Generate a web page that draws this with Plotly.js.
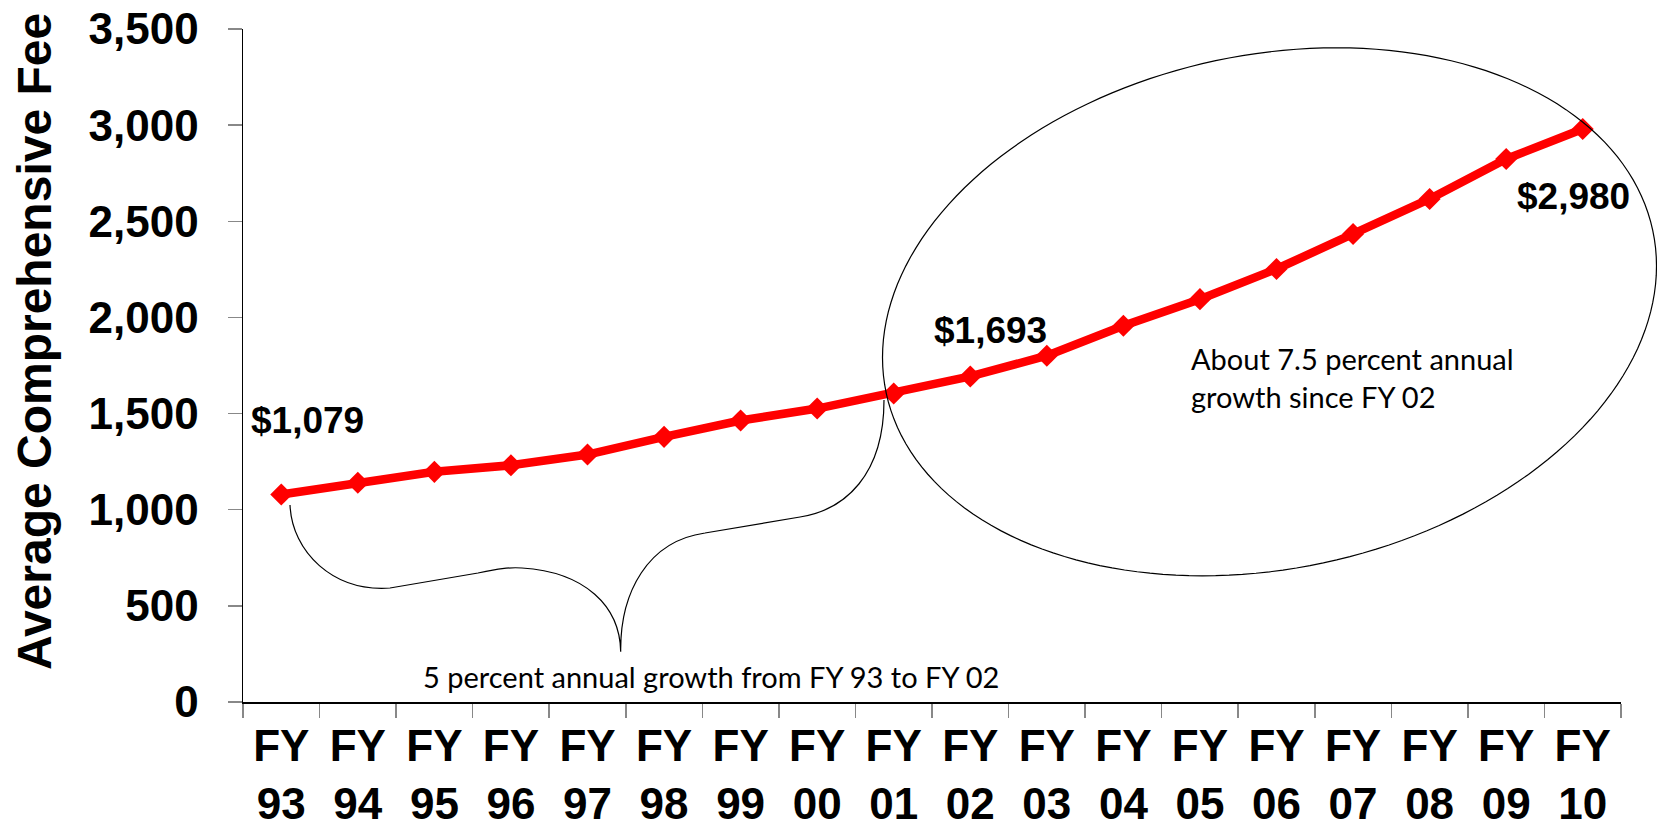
<!DOCTYPE html>
<html>
<head>
<meta charset="utf-8">
<script src="https://cdn.plot.ly/plotly-3.0.1.min.js"></script>
<style>
  html, body { margin: 0; padding: 0; background: #fff; }
  #chart { width: 1657px; height: 836px; }
</style>
</head>
<body>
<div id="chart"></div>
<script>
// ---- data ----
const categories = ['FY 93','FY 94','FY 95','FY 96','FY 97','FY 98','FY 99','FY 00','FY 01',
                    'FY 02','FY 03','FY 04','FY 05','FY 06','FY 07','FY 08','FY 09','FY 10'];
const tickLabels = ['FY<br>93','FY<br>94','FY<br>95','FY<br>96','FY<br>97','FY<br>98','FY<br>99','FY<br>00','FY<br>01',
                    'FY<br>02','FY<br>03','FY<br>04','FY<br>05','FY<br>06','FY<br>07','FY<br>08','FY<br>09','FY<br>10'];
const avgFee = [1079, 1140, 1197, 1231, 1287, 1379, 1464, 1526, 1604,
                1693, 1801, 1957, 2095, 2252, 2434, 2616, 2824, 2980];
const labelledPoints = ['FY 93', 'FY 02', 'FY 10'];
const yAxisTitle = 'Average Comprehensive Fee';
const noteEarly = '5 percent annual growth from FY 93 to FY 02';
const noteLate = 'About 7.5 percent annual<br>growth since FY 02';

// ---- layout geometry (pixels) ----
const W = 1657, H = 836;
const M = { l: 243, r: 36, t: 29, b: 134 };
const PW = W - M.l - M.r, PH = H - M.t - M.b;
const px2x = px => (px - M.l) / PW;
const py2y = py => (H - M.b - py) / PH;

const boldArial = { family: 'Arial, "Liberation Sans", sans-serif', color: '#000', weight: 'bold' };
const lato = { family: 'Lato, Carlito, Calibri, sans-serif', color: '#000', size: 29 };

// value labels offsets (pixels, relative to point)
const labelShift = { 'FY 93': [26, 74], 'FY 02': [20, 46], 'FY 10': [-9, -68] };
const fmt = v => '$' + v.toLocaleString('en-US');

const annotations = labelledPoints.map(c => {
  const i = categories.indexOf(c);
  return {
    x: c, y: avgFee[i], xref: 'x', yref: 'y', showarrow: false,
    text: fmt(avgFee[i]), xanchor: 'center', yanchor: 'middle',
    xshift: labelShift[c][0], yshift: labelShift[c][1],
    font: Object.assign({}, boldArial, { size: 37 })
  };
});
annotations.push({
  xref: 'paper', yref: 'paper', x: px2x(34), y: py2y(342), showarrow: false,
  text: yAxisTitle, textangle: -90, xanchor: 'center', yanchor: 'middle',
  font: Object.assign({}, boldArial, { size: 48 })
});
annotations.push({
  xref: 'paper', yref: 'paper', x: px2x(421), y: py2y(676), showarrow: false,
  text: noteEarly, xanchor: 'left', yanchor: 'middle', align: 'left', font: lato
});
annotations.push({
  xref: 'paper', yref: 'paper', x: px2x(1189), y: py2y(378), showarrow: false,
  text: noteLate, xanchor: 'left', yanchor: 'middle', align: 'left', font: lato
});

// ---- decorative shapes (tilted ellipse and curly brace), pixel -> paper ----
function pt(px, py) { return px2x(px).toFixed(5) + ',' + py2y(py).toFixed(5); }
function ellipsePath(cx, cy, hw, hh, cxy) {
  const k = cxy / hw, m = Math.sqrt(hh * hh - k * k);
  let d = '';
  for (let s = 0; s <= 180; s++) {
    const t = s / 180 * 2 * Math.PI;
    const x = cx + hw * Math.cos(t);
    const y = cy + k * Math.cos(t) + m * Math.sin(t);
    d += (s === 0 ? 'M' : 'L') + pt(x, y);
  }
  return d + 'Z';
}
const bracePath =
  'M' + pt(290, 505) +
  'C' + pt(292, 552) + ' ' + pt(333, 592) + ' ' + pt(390, 588) +
  'L' + pt(478, 573) +
  'C' + pt(498, 569) + ' ' + pt(508, 567) + ' ' + pt(522, 568) +
  'C' + pt(585, 572) + ' ' + pt(620, 606) + ' ' + pt(620.7, 651.7) +
  'C' + pt(620, 592) + ' ' + pt(648, 541) + ' ' + pt(705, 533) +
  'L' + pt(800, 517) +
  'C' + pt(845, 510) + ' ' + pt(884, 475) + ' ' + pt(884, 400);

const shapes = [
  { type: 'path', xref: 'paper', yref: 'paper', path: ellipsePath(1269.5, 311.8, 387, 264, -17700),
    line: { color: '#000', width: 1.2 }, fillcolor: 'rgba(0,0,0,0)' },
  { type: 'path', xref: 'paper', yref: 'paper', path: bracePath,
    line: { color: '#000', width: 1.2 }, fillcolor: 'rgba(0,0,0,0)' }
];

const trace = {
  type: 'scatter', mode: 'lines+markers',
  x: categories, y: avgFee,
  line: { color: '#FF0000', width: 8.5 },
  marker: { symbol: 'diamond', size: 17, color: '#FF0000' },
  hoverinfo: 'x+y'
};

const layout = {
  width: W, height: H,
  margin: M,
  paper_bgcolor: '#fff', plot_bgcolor: '#fff',
  showlegend: false,
  xaxis: {
    type: 'category', categoryorder: 'array', categoryarray: categories,
    tickvals: categories, ticktext: tickLabels,
    range: [-0.5, categories.length - 0.5],
    showline: true, linecolor: '#000', linewidth: 1.5,
    ticks: 'outside', tickson: 'boundaries', ticklen: 14, tickcolor: '#888', tickwidth: 1.5,
    showgrid: false, zeroline: false,
    tickfont: Object.assign({}, boldArial, { size: 44 }),
    ticklabelstandoff: 5
  },
  yaxis: {
    range: [0, 3500], dtick: 500, tick0: 0, tickformat: ',d',
    showline: true, linecolor: '#000', linewidth: 1.5,
    ticks: 'outside', ticklen: 14, tickcolor: '#888', tickwidth: 1.5,
    showgrid: false, zeroline: false,
    tickfont: Object.assign({}, boldArial, { size: 44 }),
    ticklabelstandoff: 20
  },
  annotations: annotations,
  shapes: shapes
};

Plotly.newPlot('chart', [trace], layout, { displayModeBar: false, staticPlot: true });
</script>
</body>
</html>
